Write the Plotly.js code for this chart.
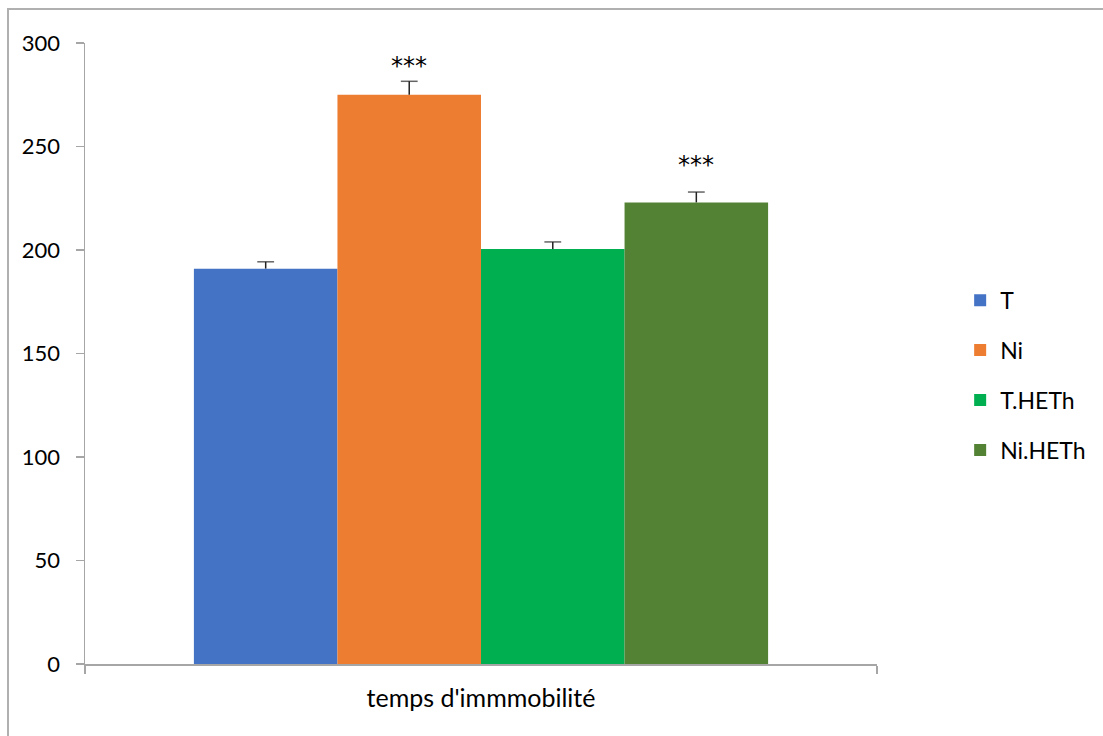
<!DOCTYPE html>
<html>
<head>
<meta charset="utf-8">
<script src="https://cdn.plot.ly/plotly-3.0.1.min.js"></script>
<style>
html,body{margin:0;padding:0;overflow:hidden;background:#fff;}
#chart{width:1103px;height:736px;position:relative;}
#frame{position:absolute;left:7px;top:8px;width:1200px;height:800px;border:2px solid #b0b0b0;pointer-events:none;box-sizing:border-box;}
</style>
</head>
<body>
<div id="chart"></div>
<div id="frame"></div>
<script>
const category = "temps d'immmobilité";
const seriesNames = ["T", "Ni", "T.HETh", "Ni.HETh"];
const seriesValues = [191, 275, 200.5, 223];
const seriesErrors = [3.3, 6.5, 3.4, 5];
const seriesColors = ["#4472C4", "#ED7D31", "#00B050", "#548235"];
const sigLabels = ["", "***", "", "***"];
const sigY = [null, 289, null, 241];
const yTicks = [0, 50, 100, 150, 200, 250, 300];

const FONT = "Lato, 'Open Sans', sans-serif";
const bargap = 0.275;

const barTraces = seriesNames.map((name, i) => ({
  type: 'bar',
  name: name,
  x: [category],
  y: [seriesValues[i]],
  marker: {color: seriesColors[i]},
  offsetgroup: 'g' + i,
  legendgroup: 'g' + i,
  hoverinfo: 'y+name'
}));

// upper-only error bars: a vertical segment with a cap at its top end
const errTraces = seriesNames.map((name, i) => ({
  type: 'scatter',
  mode: 'lines+markers',
  name: name + ' err',
  x: [category, category],
  y: [seriesValues[i], seriesValues[i] + seriesErrors[i]],
  offsetgroup: 'g' + i,
  legendgroup: 'g' + i,
  showlegend: false,
  line: {color: '#222', width: 1.5},
  marker: {symbol: 'line-ew-open', size: [0, 12], color: '#222', line: {color: '#222', width: 1.5}},
  hoverinfo: 'skip'
}));

const n = seriesNames.length;
const bw = (1 - bargap) / n;
const annotations = [];
sigLabels.forEach((lab, i) => {
  if (!lab) return;
  annotations.push({
    xref: 'x', yref: 'y',
    x: -(1 - bargap) / 2 + (i + 0.5) * bw,
    y: sigY[i],
    text: lab, showarrow: false,
    font: {family: "'DejaVu Sans', sans-serif", size: 24, color: '#000'}
  });
});

const layout = {
  width: 1103, height: 736,
  margin: {l: 85, r: 226, t: 43, b: 72},
  paper_bgcolor: '#fff', plot_bgcolor: '#fff',
  barmode: 'group', bargap: bargap, bargroupgap: 0,
  scattermode: 'group', scattergap: bargap,
  font: {family: FONT, size: 22, color: '#000'},
  showlegend: true,
  legend: {x: 1.105, xanchor: 'left', y: 0.465, yanchor: 'middle',
           font: {family: FONT, size: 23, color: '#000'},
           tracegroupgap: 17, traceorder: 'grouped'},
  xaxis: {type: 'category', showline: true, linecolor: '#a6a6a6', linewidth: 1.5,
          ticks: 'outside', tickson: 'boundaries', ticklen: 8, tickcolor: '#a6a6a6', tickwidth: 1.5,
          ticklabelstandoff: 11,
          tickfont: {family: FONT, size: 25, color: '#000'}, showgrid: false, zeroline: false},
  yaxis: {range: [0, 300], tickvals: yTicks, showline: true, linecolor: '#a6a6a6', linewidth: 1.5,
          ticks: 'outside', ticklen: 8, tickcolor: '#a6a6a6', tickwidth: 1.5,
          ticklabelstandoff: 11,
          tickfont: {family: FONT, size: 22, color: '#000'}, showgrid: false, zeroline: false},
  annotations: annotations
};

Plotly.newPlot('chart', barTraces.concat(errTraces), layout, {displayModeBar: false, staticPlot: true});
</script>
</body>
</html>
